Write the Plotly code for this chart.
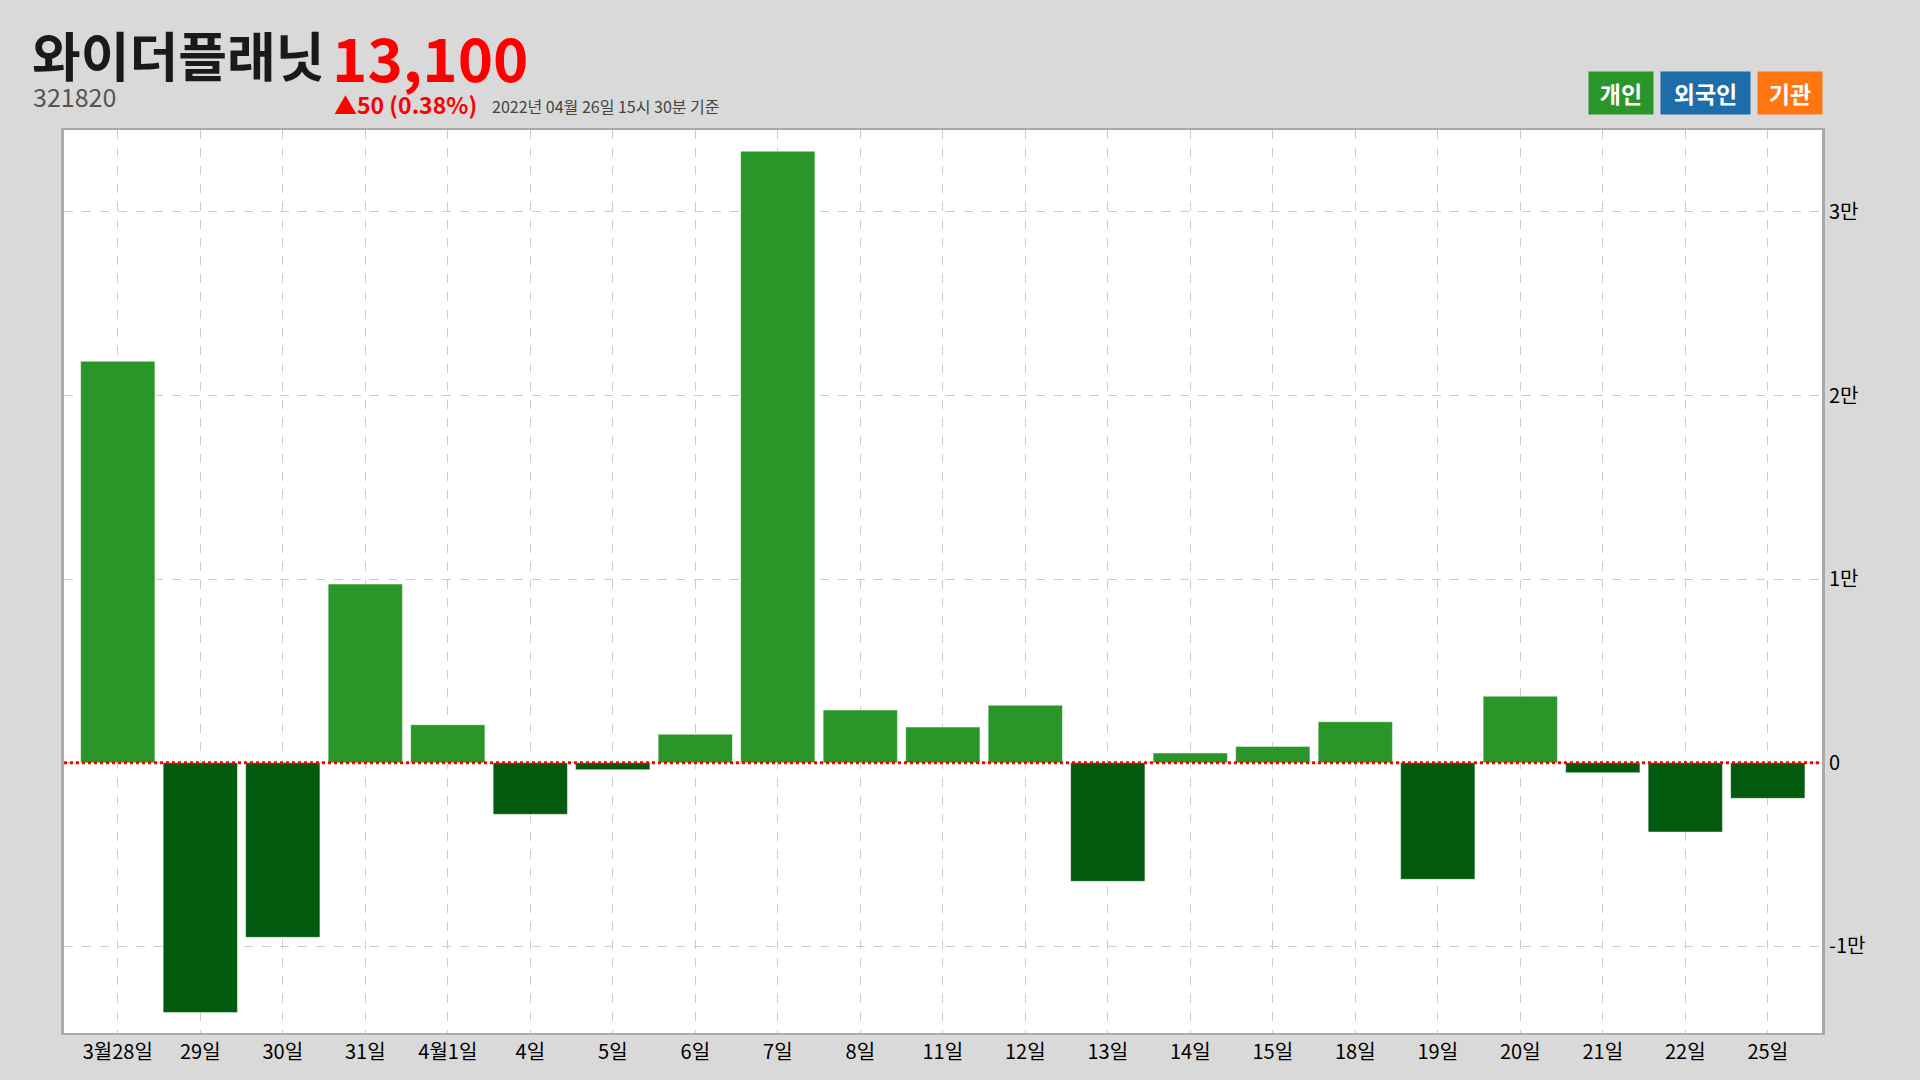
import plotly.graph_objects as go

# ---- data ----
dates = ["3월28일", "29일", "30일", "31일", "4월1일", "4일", "5일", "6일", "7일", "8일", "11일",
         "12일", "13일", "14일", "15일", "18일", "19일", "20일", "21일", "22일", "25일"]
individual = [21860, -13600, -9510, 9730, 2070, -2810, -380, 1550, 33300, 2870, 1940,
              3130, -6460, 530, 890, 2230, -6350, 3620, -545, -3775, -1940]
ytick_vals = [-10000, 0, 10000, 20000, 30000]
ytick_text = ["-1만", "0", "1만", "2만", "3만"]

stock_name = "와이더플래닛"
stock_code = "321820"
price_text = "13,100"
change_text = "▲50 (0.38%)"
time_text = "2022년 04월 26일 15시 30분 기준"
legend_items = [("개인", "#2a9629"), ("외국인", "#1e6dab"), ("기관", "#ff7611")]

# ---- layout constants ----
W, H = 1920, 1080
L, R, T, B = 64, 1822, 130, 1033
FONT = "Noto Sans CJK KR"
POS = "#2a9629"
NEG = "#015a0d"

def px(x):
    return (x - L) / (R - L)

def py(y):
    return (B - y) / (B - T)

colors = [POS if v >= 0 else NEG for v in individual]

fig = go.Figure()
fig.add_trace(go.Bar(
    x=list(range(len(dates))), y=individual, width=0.9,
    marker=dict(color=colors, line=dict(color="rgba(255,255,255,0.45)", width=1)),
    hoverinfo="skip", showlegend=False,
))

fig.add_shape(type="line", xref="paper", yref="y", x0=0, x1=1, y0=0, y1=0,
              line=dict(color="#ff0000", width=3, dash="dot"), layer="above")

annotations = [
    dict(text=f"<b>{stock_name}</b>", x=px(30), y=py(54), xanchor="left", yanchor="middle",
         font=dict(family=FONT, size=53, color="#1a1a1a")),
    dict(text=f"<b>{price_text}</b>", x=px(330), y=py(55), xanchor="left", yanchor="middle",
         font=dict(family=FONT, size=60, color="#ff0000")),
    dict(text=stock_code, x=px(31), y=py(96), xanchor="left", yanchor="middle",
         font=dict(family=FONT, size=25, color="#555555")),
    dict(text=f"<b>{change_text}</b>", x=px(332), y=py(104), xanchor="left", yanchor="middle",
         font=dict(family=FONT, size=23, color="#ff0000")),
    dict(text=time_text, x=px(490), y=py(106), xanchor="left", yanchor="middle",
         font=dict(family=FONT, size=16, color="#444444")),
]

box_x = [(1589, 1653), (1661, 1750), (1758, 1822)]
for (label, col), (x0, x1) in zip(legend_items, box_x):
    annotations.append(dict(
        text=f"<b>{label}</b>", x=px((x0 + x1) / 2), y=py(93), xanchor="center", yanchor="middle",
        width=x1 - x0, height=42, bgcolor=col, borderpad=0, align="center",
        font=dict(family=FONT, size=23, color="#ffffff")))

for a in annotations:
    a.update(xref="paper", yref="paper", showarrow=False)

fig.update_layout(
    width=W, height=H,
    margin=dict(l=L, r=W - R, t=T, b=H - B, pad=0),
    paper_bgcolor="#d9d9d9", plot_bgcolor="#ffffff",
    font=dict(family=FONT, color="#000000"),
    annotations=annotations,
    bargap=0.1,
    xaxis=dict(
        tickmode="array", tickvals=list(range(len(dates))), ticktext=dates,
        range=[-0.652, 20.657], showgrid=True, gridcolor="#cccccc", griddash="dash", gridwidth=1,
        showline=True, linecolor="#aaaaaa", linewidth=2, mirror=True,
        ticks="", tickfont=dict(size=20, color="#000000", family=FONT), zeroline=False,
        fixedrange=True,
    ),
    yaxis=dict(
        side="right", tickmode="array", tickvals=ytick_vals, ticktext=ytick_text,
        range=[-14720, 34460], showgrid=True, gridcolor="#cccccc", griddash="dash", gridwidth=1,
        showline=True, linecolor="#aaaaaa", linewidth=3, mirror=True,
        ticks="", tickfont=dict(size=20, color="#000000", family=FONT), zeroline=False,
        fixedrange=True,
    ),
)

fig.write_html("out.html", config={"displayModeBar": False},
               post_script="document.body.style.margin='0';document.body.style.overflow='hidden';")
